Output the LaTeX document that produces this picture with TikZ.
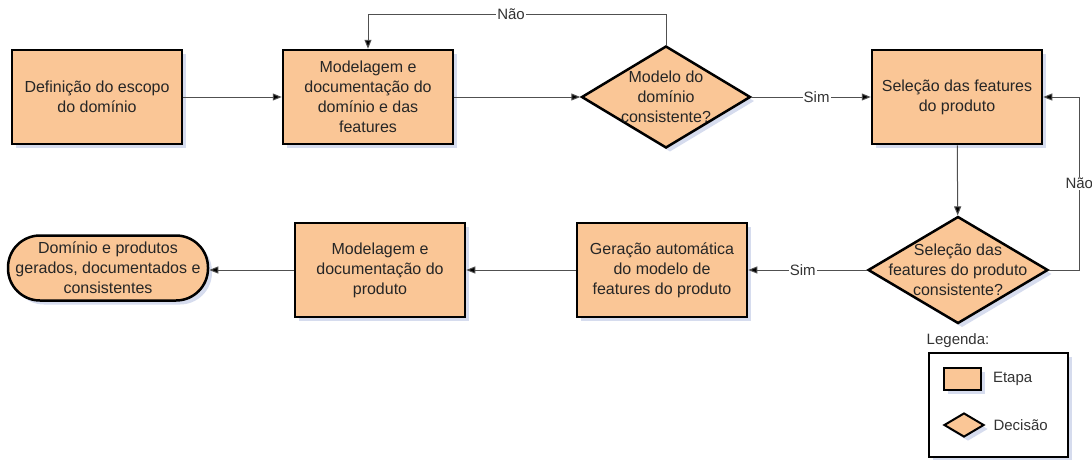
\documentclass[tikz,border=0pt]{standalone}
\usepackage{fontspec}
\setmainfont{Liberation Sans}
\usepackage{tikz}
\usetikzlibrary{arrows.meta, positioning, shapes.geometric, shadows}
\definecolor{etapa}{RGB}{250,198,150}
\definecolor{sombra}{RGB}{214,220,238}
\definecolor{linha}{RGB}{80,80,80}
\newcommand{\txt}{\fontsize{16}{20}\selectfont}
\newcommand{\lbl}{\fontsize{15}{18}\selectfont}

\tikzset{
	sombreado/.style={drop shadow={shadow xshift=4pt, shadow yshift=-4pt, fill=sombra, opacity=1}},
	etapabox/.style={rectangle, draw=black, line width=2.5pt, fill=etapa, sombreado, minimum width=170pt, minimum height=94pt, inner sep=2pt, align=center, font=\txt, text=black!85},
	decisao/.style={diamond, draw=black, line width=2.5pt, fill=etapa, sombreado, inner sep=0pt},
	fim/.style={rectangle, rounded corners=32pt, draw=black, line width=2.5pt, fill=etapa, sombreado, minimum width=200pt, minimum height=65pt, inner sep=0pt, align=center, font=\txt, text=black!85},
	legenda/.style={rectangle, draw=black, line width=2pt, fill=white, sombreado},
	fluxo/.style={draw=linha, line width=1pt, -{Triangle[length=9pt,width=7pt,fill=black]}},
	rotulo/.style={fill=white, inner sep=1pt, font=\lbl, text=black!80},
}

\begin{document}
\begin{tikzpicture}[x=1pt, y=-1pt]
	\useasboundingbox (0,0) rectangle (1092,459);

	\node[etapabox] (a1) at (97,97) {Definição do escopo\\do domínio};
	\node[etapabox] (b1) at (368,97) {Modelagem e\\documentação do\\domínio e das\\features};
	\node[decisao, minimum width=169pt, minimum height=102pt,
		label={[font=\txt, align=center, text=black!85]center:Modelo do\\domínio\\consistente?}] (c1) at (666,97) {};
	\node[etapabox] (d1) at (957,97) {Seleção das features\\do produto};

	\node[decisao, minimum width=180pt, minimum height=107pt,
		label={[font=\txt, align=center, text=black!85]center:Seleção das\\features do produto\\consistente?}] (d2) at (958,270) {};
	\node[etapabox] (c2) at (662,270) {Geração automática\\do modelo de\\features do produto};
	\node[etapabox] (b2) at (380,270) {Modelagem e\\documentação do\\produto};
	\node[fim] (a2) at (108,268) {Domínio e produtos\\gerados, documentados e\\consistentes};

	\draw[fluxo] (a1) -- (b1);
	\draw[fluxo] (b1) -- (c1);
	\draw[fluxo] (c1.north) -- (c1.north |- 0,14) -- node[rotulo, pos=0.52] {Não} (b1.north |- 0,14) -- (b1.north);
	\draw[fluxo] (c1.east) -- node[rotulo, pos=0.545] {Sim} (d1.west);
	\draw[fluxo] (d1) -- (d2);
	\draw[fluxo] (d2.east) -- ++(30,0) |- node[rotulo, pos=0.25] {Não} (d1.east);
	\draw[fluxo] (d2.west) -- node[rotulo, pos=0.54] {Sim} (c2.east);
	\draw[fluxo] (c2) -- (b2);
	\draw[fluxo] (b2.west) -- (b2.west -| a2.east);

	\node[font=\lbl, text=black!80] (tl) at (958,341) {Legenda:};
	\node[legenda, minimum width=139pt, minimum height=104pt] (leg) at (998.5,405) {};
	\node[etapabox, line width=2pt, minimum width=37pt, minimum height=22pt] (l1) at (962,379) {};
	\node[decisao, line width=2pt, minimum width=40pt, minimum height=24pt] (l2) at (964,425) {};
	\node[font=\lbl, text=black!80, right=8pt of l1] (e1) {Etapa};
	\node[font=\lbl, text=black!80, right=5pt of l2] (e2) {Decisão};
\end{tikzpicture}
\end{document}
